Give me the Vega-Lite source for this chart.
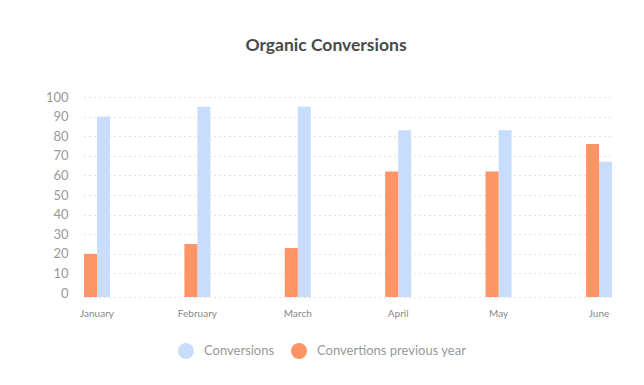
{
  "$schema": "https://vega.github.io/schema/vega-lite/v6.json",
  "width": 528,
  "height": 200,
  "autosize": "none",
  "padding": {"left": 84, "top": 97, "right": 32, "bottom": 88},
  "background": "white",
  "title": {
    "text": "Organic Conversions",
    "font": "Lato",
    "fontSize": 17.5,
    "fontWeight": "bold",
    "color": "#4a4a4a",
    "anchor": "middle",
    "offset": 37,
    "dx": -22
  },
  "data": {
    "values": [
      {"month": "January", "series": "Conversions", "value": 90},
      {"month": "January", "series": "Convertions previous year", "value": 20},
      {"month": "February", "series": "Conversions", "value": 95},
      {"month": "February", "series": "Convertions previous year", "value": 25},
      {"month": "March", "series": "Conversions", "value": 95},
      {"month": "March", "series": "Convertions previous year", "value": 23},
      {"month": "April", "series": "Conversions", "value": 83},
      {"month": "April", "series": "Convertions previous year", "value": 62},
      {"month": "May", "series": "Conversions", "value": 83},
      {"month": "May", "series": "Convertions previous year", "value": 62},
      {"month": "June", "series": "Conversions", "value": 67},
      {"month": "June", "series": "Convertions previous year", "value": 76}
    ]
  },
  "mark": {"type": "bar"},
  "encoding": {
    "x": {
      "field": "month",
      "type": "nominal",
      "sort": ["January", "February", "March", "April", "May", "June"],
      "scale": {"paddingInner": 0.741, "paddingOuter": 0},
      "axis": {
        "title": null,
        "labelAngle": 0,
        "labelFont": "Lato",
        "labelFontSize": 10,
        "labelColor": "#888888",
        "labelPadding": 11,
        "ticks": false,
        "grid": false,
        "domain": true,
        "domainColor": "#c4c4c4",
        "domainDash": [1, 4],
        "domainWidth": 1
      }
    },
    "xOffset": {
      "field": "series",
      "sort": ["Convertions previous year", "Conversions"]
    },
    "y": {
      "field": "value",
      "type": "quantitative",
      "scale": {"domain": [-2, 100], "nice": false, "zero": false},
      "axis": {
        "title": null,
        "values": [0, 10, 20, 30, 40, 50, 60, 70, 80, 90, 100],
        "domain": false,
        "ticks": false,
        "labelFont": "Lato",
        "labelFontSize": 13,
        "labelColor": "#999999",
        "labelPadding": 16,
        "grid": true,
        "gridColor": "#c4c4c4",
        "gridDash": [1, 4],
        "gridOpacity": {"condition": {"test": "datum.value === 0", "value": 0}, "value": 1}
      }
    },
    "y2": {"datum": -2},
    "color": {
      "field": "series",
      "type": "nominal",
      "scale": {
        "domain": ["Conversions", "Convertions previous year"],
        "range": ["#c8ddfc", "#ff9466"]
      },
      "legend": {
        "title": null,
        "orient": "none",
        "direction": "horizontal",
        "legendX": 94,
        "legendY": 246,
        "symbolType": "circle",
        "symbolSize": 256,
        "symbolStrokeWidth": 0,
        "symbolOpacity": 1,
        "labelFont": "Lato",
        "labelFontSize": 13,
        "labelColor": "#999999",
        "labelOffset": 10,
        "columnPadding": 16
      }
    }
  },
  "config": {"view": {"stroke": null}}
}
